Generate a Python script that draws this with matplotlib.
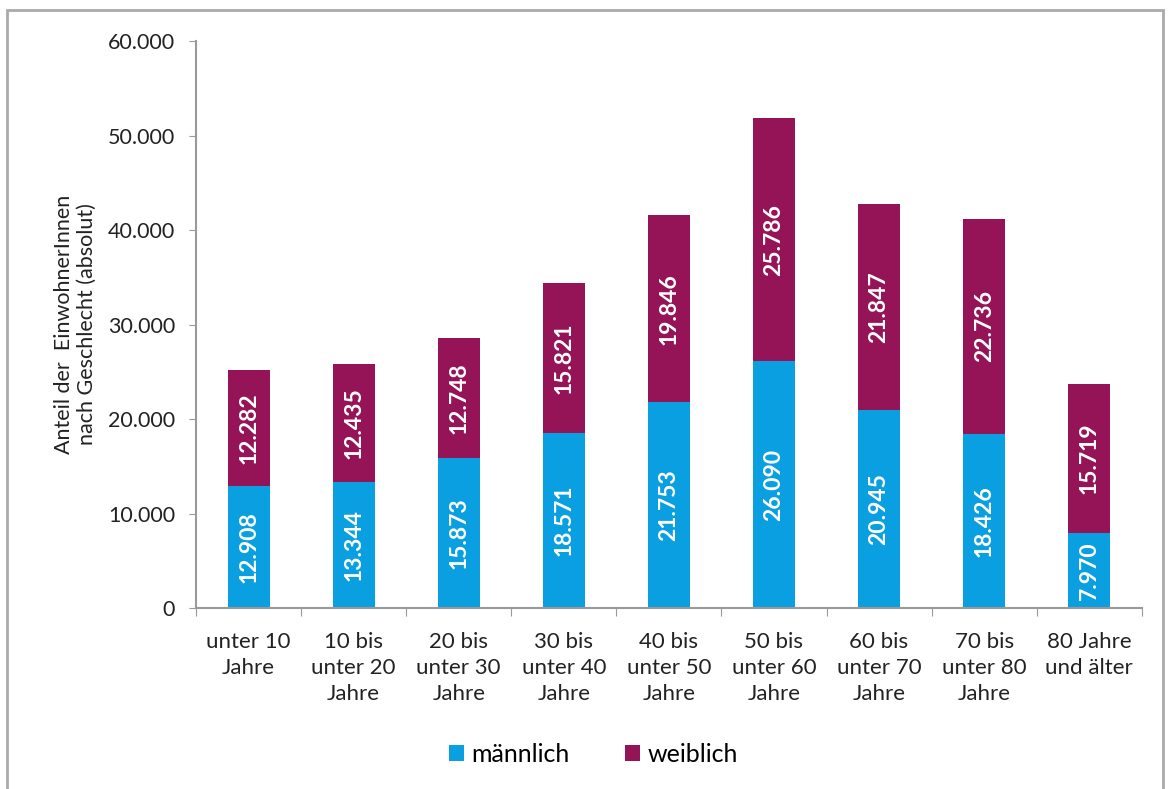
import matplotlib.pyplot as plt
import numpy as np
from matplotlib.patches import Rectangle
from matplotlib.ticker import FuncFormatter

plt.rcParams['font.family'] = ['Lato', 'DejaVu Sans']

# data
categories = ['unter 10\nJahre', '10 bis\nunter 20\nJahre', '20 bis\nunter 30\nJahre',
              '30 bis\nunter 40\nJahre', '40 bis\nunter 50\nJahre', '50 bis\nunter 60\nJahre',
              '60 bis\nunter 70\nJahre', '70 bis\nunter 80\nJahre', '80 Jahre\nund älter']
maennlich = [12908, 13344, 15873, 18571, 21753, 26090, 20945, 18426, 7970]
weiblich = [12282, 12435, 12748, 15821, 19846, 25786, 21847, 22736, 15719]

blue = '#0A9FE0'
purple = '#951458'

def de_fmt(v):
    return f'{v:,.0f}'.replace(',', '.')

fig = plt.figure(figsize=(11.69, 7.89), dpi=100)
ax = fig.add_axes([0.1677, 0.2294, 0.809, 0.7186])

x = np.arange(len(categories))
ax.bar(x, maennlich, width=0.4, color=blue, label='männlich')
ax.bar(x, weiblich, width=0.4, bottom=maennlich, color=purple, label='weiblich')

# white values inside the segments
for xi, m, w in zip(x, maennlich, weiblich):
    ax.text(xi, m / 2, de_fmt(m), rotation=90, ha='center', va='center',
            color='white', fontsize=16.5, fontweight='bold')
    ax.text(xi, m + w / 2, de_fmt(w), rotation=90, ha='center', va='center',
            color='white', fontsize=16.5, fontweight='bold')

ax.set_xlim(-0.5, len(categories) - 0.5)
ax.set_ylim(0, 60000)
ax.set_yticks(range(0, 60001, 10000))
ax.yaxis.set_major_formatter(FuncFormatter(lambda v, p: de_fmt(v)))
ax.set_xticks(np.arange(-0.5, len(categories), 1))
ax.set_xticklabels([])
ax.set_xticks(x, minor=True)
ax.set_xticklabels(categories, minor=True, fontsize=16, color='#222222', linespacing=1.38)
ax.tick_params(axis='x', which='minor', length=0, pad=17)
ax.tick_params(axis='x', which='major', length=6, color='#999999', direction='out')
ax.tick_params(axis='y', length=5, color='#999999', labelsize=15.5, labelcolor='#222222', pad=10)

for s in ['top', 'right']:
    ax.spines[s].set_visible(False)
for s in ['left', 'bottom']:
    ax.spines[s].set_color('#999999')
    ax.spines[s].set_linewidth(1.5)

ax.set_ylabel('Anteil der  EinwohnerInnen\nnach Geschlecht (absolut)', fontsize=15.5,
              color='#222222', linespacing=1.15)
ax.yaxis.set_label_coords(-0.105, 0.5)

ax.legend(loc='center', bbox_to_anchor=(0.42, -0.258), ncol=2, frameon=False,
          fontsize=18, handlelength=0.6, handleheight=0.6, handletextpad=0.3,
          columnspacing=2.2)

fig.patches.append(Rectangle((0.006, -0.05), 0.989, 1.037, transform=fig.transFigure,
                             fill=False, edgecolor='#AAAAAA', linewidth=2))

fig.savefig('out.png', dpi=100)
